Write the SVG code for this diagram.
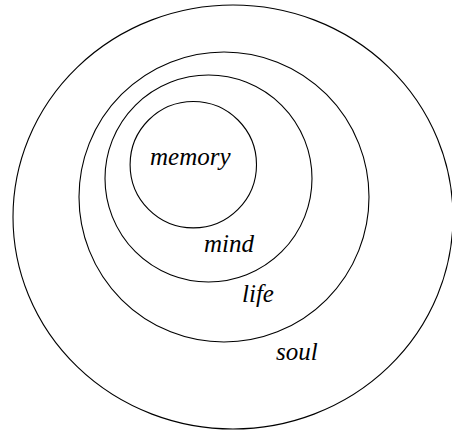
<svg xmlns="http://www.w3.org/2000/svg" width="452" height="430" viewBox="0 0 452 430">
<style>
.ring{fill:none;stroke:#000;stroke-width:1.1}
.lbl{font-family:"Liberation Serif","Times New Roman",serif;font-style:italic;font-size:25px;fill:#000}
</style>
<rect width="452" height="430" fill="#fff"/>
<g id="soul">
<ellipse class="ring" cx="233" cy="217" rx="220" ry="212"/>
<text class="lbl" x="276" y="360">soul</text>
</g>
<g id="life">
<circle class="ring" cx="224" cy="197" r="145"/>
<text class="lbl" x="242" y="302">life</text>
</g>
<g id="mind">
<circle class="ring" cx="208.5" cy="178.5" r="103.5"/>
<text class="lbl" x="204" y="252">mind</text>
</g>
<g id="memory">
<circle class="ring" cx="193.3" cy="164.7" r="63.2"/>
<text class="lbl" x="150" y="165">memory</text>
</g>
<g id="connectors"/>
</svg>
